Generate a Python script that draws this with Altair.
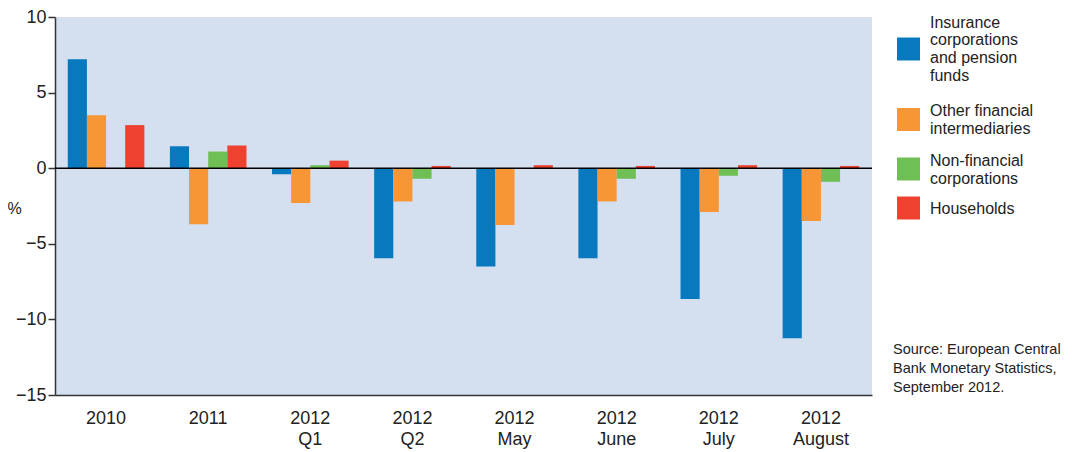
import altair as alt
import pandas as pd

categories = ["2010", "2011", "2012\nQ1", "2012\nQ2", "2012\nMay", "2012\nJune", "2012\nJuly", "2012\nAugust"]
series = [
    "Insurance corporations and pension funds",
    "Other financial intermediaries",
    "Non-financial corporations",
    "Households",
]
legend_lines = [
    ["Insurance", "corporations", "and pension", "funds"],
    ["Other financial", "intermediaries"],
    ["Non-financial", "corporations"],
    ["Households"],
]
colors = ["#0878BF", "#F79636", "#70BF54", "#EE4130"]

insurance = [7.2, 1.45, -0.4, -5.95, -6.5, -5.95, -8.65, -11.25]
other_fin = [3.5, -3.7, -2.3, -2.2, -3.75, -2.2, -2.9, -3.5]
non_fin = [-0.05, 1.1, 0.2, -0.7, -0.05, -0.7, -0.5, -0.9]
households = [2.85, 1.5, 0.5, 0.15, 0.2, 0.15, 0.2, 0.15]

y_ticks = [-15, -10, -5, 0, 5, 10]
source_lines = ["Source: European Central", "Bank Monetary Statistics,", "September 2012."]

rows = []
for s, vals in zip(series, [insurance, other_fin, non_fin, households]):
    for c, v in zip(categories, vals):
        rows.append({"category": c, "series": s, "value": v})
df = pd.DataFrame(rows)

# legend layout (pixels relative to plot area)
LEG_SYM_X = 853.5
LEG_TXT_X = 875
LEG_LINE_H = 17.7
leg_sym_y = [32, 102.5, 152, 191]
leg_txt_top = [-2.5, 86, 136, 184]

sym_rows = [{"series": s, "py": y} for s, y in zip(series, leg_sym_y)]
txt_rows = []
for s, lines, top in zip(series, legend_lines, leg_txt_top):
    for i, ln in enumerate(lines):
        txt_rows.append({"series": s, "txt": ln, "py": top + i * LEG_LINE_H})

FONT = "Liberation Sans"
TXT = "#222222"
color_scale = alt.Scale(domain=series, range=colors)

bars = alt.Chart(df).mark_bar().encode(
    x=alt.X("category:N", sort=categories,
            scale=alt.Scale(paddingInner=0.25, paddingOuter=0.125),
            axis=alt.Axis(title=None, labelAngle=0, ticks=False, domain=True,
                          domainColor="#333333", domainWidth=1.5,
                          labelExpr="split(datum.label, '\\n')",
                          labelFontSize=18, labelPadding=14, labelLineHeight=21,
                          labelColor=TXT, labelFont=FONT)),
    xOffset=alt.XOffset("series:N", sort=series),
    y=alt.Y("value:Q", scale=alt.Scale(domain=[-15, 10], nice=False),
            axis=alt.Axis(values=y_ticks, title="%", titleAngle=0, titleX=-41, titleY=191,
                          titleAlign="center", titleBaseline="middle",
                          titleFont=FONT, titleFontSize=16, titleFontWeight="normal",
                          titleColor=TXT, grid=False,
                          domainColor="#333333", domainWidth=1.5,
                          tickColor="#333333", tickSize=7, tickWidth=1.5,
                          labelFontSize=18, labelFont=FONT, labelColor=TXT,
                          labelPadding=2)),
    color=alt.Color("series:N", sort=series, scale=color_scale, legend=None),
)

zero = alt.Chart(pd.DataFrame({"y": [0]})).mark_rule(color="#000000", strokeWidth=1.5).encode(y="y:Q")

leg_sym = alt.Chart(pd.DataFrame(sym_rows)).mark_square(size=529, opacity=1, filled=True).encode(
    x=alt.value(LEG_SYM_X),
    y=alt.Y("py:Q", scale=None),
    color=alt.Color("series:N", sort=series, scale=color_scale, legend=None),
)

leg_txt = alt.Chart(pd.DataFrame(txt_rows)).mark_text(
    align="left", baseline="top", font=FONT, fontSize=16, color=TXT
).encode(
    x=alt.value(LEG_TXT_X),
    y=alt.Y("py:Q", scale=None),
    text="txt:N",
)

source = alt.Chart(pd.DataFrame({"a": [0]})).mark_text(
    text=source_lines, align="left", baseline="top", font=FONT, fontSize=14.5,
    lineHeight=19, color=TXT
).encode(x=alt.value(838), y=alt.value(326))

chart = alt.layer(bars, zero, leg_sym, leg_txt, source).properties(
    width=817, height=378,
    autosize=alt.AutoSizeParams(type="none"),
    padding={"left": 47, "top": 9, "right": 193, "bottom": 57},
).configure_view(fill="#D4DFF0", stroke=None, clip=False)

chart.save("out.html", embed_options={"renderer": "svg", "actions": False})
